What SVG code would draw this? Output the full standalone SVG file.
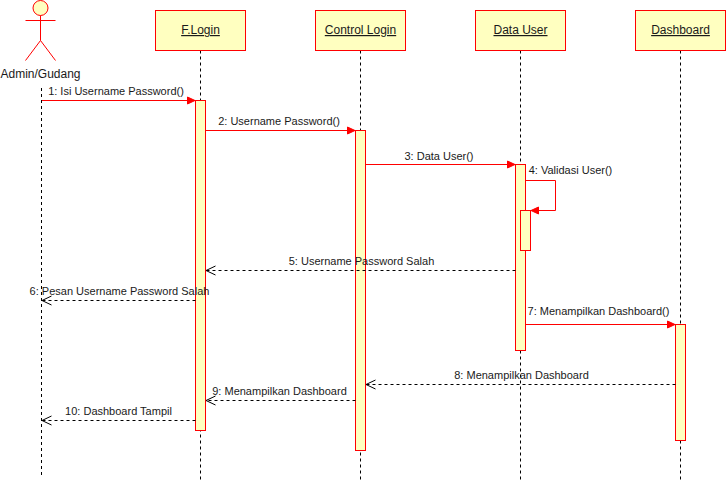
<svg xmlns="http://www.w3.org/2000/svg" width="726" height="483" viewBox="0 0 726 483">
<style>
text{font-family:"Liberation Sans",Arial,sans-serif;font-size:11px;fill:#1a1a1a;text-anchor:middle}
.box,.act{fill:#ffffc0;stroke:#ff0000;stroke-width:1}
.life{fill:none;stroke:#000;stroke-width:1;stroke-dasharray:3 3}
.msg{fill:none;stroke:#ff0000;stroke-width:1;marker-end:url(#solid)}
.ret{fill:none;stroke:#000;stroke-width:1;stroke-dasharray:3 3;marker-end:url(#open)}
.name{font-size:12px;text-decoration:underline}
.fig{fill:none;stroke:#ff0000;stroke-width:1}
</style>
<defs>
<marker id="solid" markerUnits="userSpaceOnUse" markerWidth="10" markerHeight="10" refX="8" refY="5" orient="auto"><path d="M0.5 1.500L8 5L0.5 8.500Z" fill="#ff0000" stroke="#ff0000"/></marker>
<marker id="open" markerUnits="userSpaceOnUse" markerWidth="12" markerHeight="12" refX="10" refY="6" orient="auto"><path d="M0.5 1.500L10 6L0.5 10.500" fill="none" stroke="#000"/></marker>
</defs>
<rect width="726" height="483" fill="#fff"/>
<g id="lifelines">
<path class="life" d="M41.500 88V478"/>
<path class="life" d="M200.500 50.500V481"/>
<path class="life" d="M360.500 50.500V481"/>
<path class="life" d="M520.500 50.500V481"/>
<path class="life" d="M680.500 50.500V481"/>
</g>
<g id="node-admin">
<circle cx="40.500" cy="8" r="7.500" fill="#ffffc0" stroke="#ff0000"/>
<path class="fig" d="M40.500 15.500V40.500M25.500 20.500H55.500M40.500 40.500L25.500 60.500M40.500 40.500L55.500 60.500"/>
<text x="40.500" y="78" style="font-size:12px">Admin/Gudang</text>
</g>
<g id="node-flogin">
<rect class="box" x="155.500" y="10.500" width="90" height="40"/>
<text class="name" x="200.500" y="34">F.Login</text>
<rect class="act" x="195.500" y="100.500" width="10" height="330"/>
</g>
<g id="node-control">
<rect class="box" x="315.500" y="10.500" width="90" height="40"/>
<text class="name" x="360.500" y="34">Control Login</text>
<rect class="act" x="355.500" y="130.500" width="10" height="320"/>
</g>
<g id="node-data">
<rect class="box" x="475.500" y="10.500" width="90" height="40"/>
<text class="name" x="520.500" y="34">Data User</text>
<rect class="act" x="515.500" y="164.500" width="10" height="186"/>
<rect class="act" x="520.500" y="210.500" width="10" height="40"/>
</g>
<g id="node-dashboard">
<rect class="box" x="635.500" y="10.500" width="90" height="40"/>
<text class="name" x="680.500" y="34">Dashboard</text>
<rect class="act" x="675.500" y="324.500" width="10" height="116"/>
</g>
<g id="connectors">
<path class="msg" d="M42 100.500H195"/>
<path class="msg" d="M205.500 130.500H355"/>
<path class="msg" d="M365.500 164.500H515"/>
<path class="msg" d="M525.500 180.500H555.500V210.500H531"/>
<path class="ret" d="M515.500 270.500H206"/>
<path class="ret" d="M195.500 300.500H42"/>
<path class="msg" d="M525.500 324.500H675"/>
<path class="ret" d="M675.500 384.500H366"/>
<path class="ret" d="M355.500 400.500H206"/>
<path class="ret" d="M195.500 420.500H42"/>
</g>
<g id="labels">
<text x="116" y="95">1: Isi Username Password()</text>
<text x="279" y="125">2: Username Password()</text>
<text x="439" y="160">3: Data User()</text>
<text x="570.500" y="174">4: Validasi User()</text>
<text x="361.500" y="265">5: Username Password Salah</text>
<text x="119.500" y="295">6: Pesan Username Password Salah</text>
<text x="598.500" y="315">7: Menampilkan Dashboard()</text>
<text x="521.500" y="379">8: Menampilkan Dashboard</text>
<text x="279.500" y="395">9: Menampilkan Dashboard</text>
<text x="118.500" y="415">10: Dashboard Tampil</text>
</g>
</svg>
